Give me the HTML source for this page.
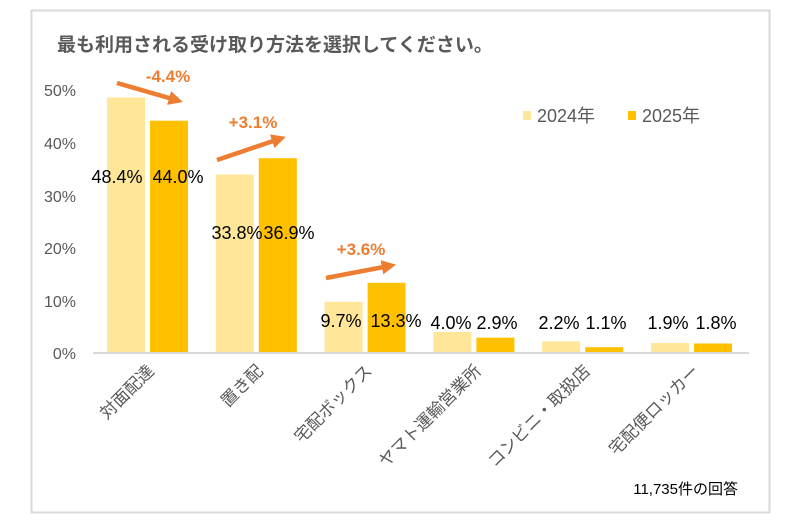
<!DOCTYPE html>
<html><head><meta charset="utf-8"><style>
html,body{margin:0;padding:0;background:#fff;}
svg{display:block;font-family:"Liberation Sans","Noto Sans CJK JP",sans-serif;}
</style></head><body>
<svg width="800" height="530" viewBox="0 0 800 530" xmlns="http://www.w3.org/2000/svg">
<rect x="31.5" y="10.5" width="738" height="502" fill="#fff" stroke="#d9d9d9" stroke-width="2"/>
<text x="57" y="51" font-size="19" font-weight="bold" fill="#595959">最も利用される受け取り方法を選択してください。</text>
<g font-size="16" fill="#595959" text-anchor="end">
<text x="76" y="96">50%</text><text x="76" y="149">40%</text><text x="76" y="202">30%</text>
<text x="76" y="254">20%</text><text x="76" y="307">10%</text><text x="76" y="359">0%</text>
</g>
<g fill="#FFE699">
<rect x="107" y="97.4" width="38" height="255.6"/>
<rect x="215.8" y="174.5" width="38" height="178.5"/>
<rect x="324.6" y="301.8" width="38" height="51.2"/>
<rect x="433.4" y="331.9" width="38" height="21.1"/>
<rect x="542.2" y="341.4" width="38" height="11.6"/>
<rect x="651" y="343" width="38" height="10"/>
</g>
<g fill="#FFC000">
<rect x="150" y="120.7" width="38" height="232.3"/>
<rect x="258.8" y="158.2" width="38" height="194.8"/>
<rect x="367.6" y="282.8" width="38" height="70.2"/>
<rect x="476.4" y="337.7" width="38" height="15.3"/>
<rect x="585.2" y="347.2" width="38" height="5.8"/>
<rect x="694" y="343.5" width="38" height="9.5"/>
</g>
<line x1="93" y1="353" x2="749" y2="353" stroke="#d9d9d9" stroke-width="2"/>
<g font-size="18" fill="#000" text-anchor="middle">
<text x="117" y="183">48.4%</text><text x="178" y="183">44.0%</text>
<text x="237" y="239">33.8%</text><text x="289" y="239">36.9%</text>
<text x="341" y="327">9.7%</text><text x="396" y="327">13.3%</text>
<text x="451" y="329">4.0%</text><text x="497" y="329">2.9%</text>
<text x="559" y="329">2.2%</text><text x="606" y="329">1.1%</text>
<text x="668" y="329">1.9%</text><text x="716" y="329">1.8%</text>
</g>
<defs><marker id="ah" viewBox="0 0 10 10" refX="5" refY="5" markerWidth="3.2" markerHeight="3.2" orient="auto"><path d="M0,0L10,5L0,10z" fill="#ED7D31"/></marker></defs>
<g stroke="#ED7D31" stroke-width="4.5" marker-end="url(#ah)">
<line x1="117" y1="83" x2="176" y2="100"/>
<line x1="217" y1="160" x2="279" y2="139"/>
<line x1="326" y1="278" x2="389" y2="266"/>
</g>
<g font-size="17" font-weight="bold" fill="#ED7D31" text-anchor="middle">
<text x="168" y="82">-4.4%</text>
<text x="253" y="128">+3.1%</text>
<text x="361" y="255">+3.6%</text>
</g>
<rect x="523" y="111" width="8" height="9" fill="#FFE699"/>
<text x="537" y="122" font-size="18" fill="#595959">2024年</text>
<rect x="628" y="111" width="8" height="9" fill="#FFC000"/>
<text x="642" y="122" font-size="18" fill="#595959">2025年</text>
<g font-size="17" fill="#595959" text-anchor="end">
<text transform="translate(155,372) rotate(-45)">対面配達</text>
<text transform="translate(264,372) rotate(-45)">置き配</text>
<text transform="translate(373,372) rotate(-45)">宅配ボックス</text>
<text transform="translate(482,372) rotate(-45)">ヤマト運輸営業所</text>
<text transform="translate(591,372) rotate(-45)">コンビニ・取扱店</text>
<text transform="translate(700,372) rotate(-45)">宅配便ロッカー</text>
</g>
<text x="738" y="494" font-size="15" fill="#000" text-anchor="end">11,735件の回答</text>
</svg>
</body></html>
